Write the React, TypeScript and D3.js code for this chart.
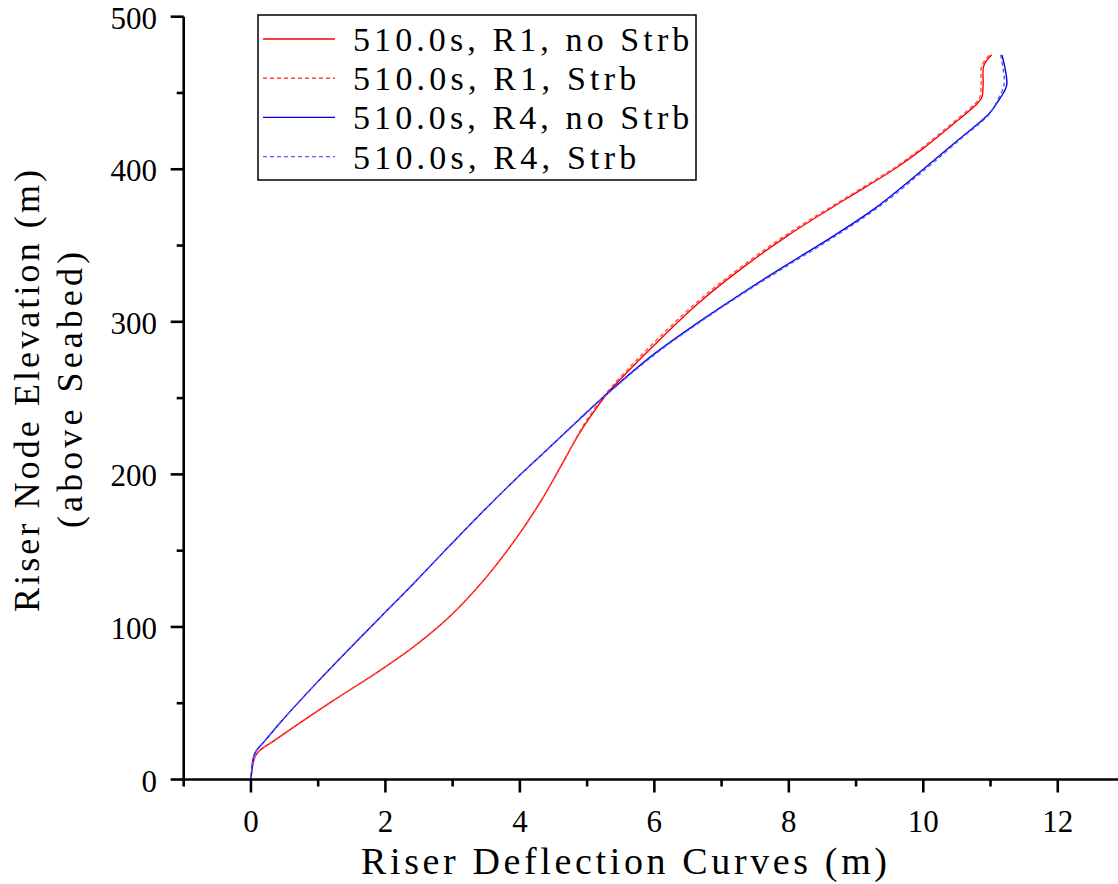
import React from "react";
import * as d3 from "d3";

// ---- Data ----
const elevR1 = [0, 5, 10, 15, 19, 25, 32, 51, 70, 87, 107, 131, 159, 183, 203, 225, 236, 253, 264, 284, 312, 335, 357, 380, 401, 413, 428, 443, 447, 456, 468, 475];
const defR1NoStrb = [0, 0.01, 0.03, 0.06, 0.13, 0.33, 0.56, 1.2, 1.87, 2.42, 2.96, 3.47, 3.96, 4.32, 4.58, 4.86, 5.02, 5.3, 5.53, 5.98, 6.65, 7.3, 8.0, 8.83, 9.6, 9.98, 10.4, 10.8, 10.87, 10.89, 10.9, 11.02];
const defR1Strb = [0, 0.01, 0.03, 0.06, 0.13, 0.33, 0.56, 1.2, 1.87, 2.42, 2.96, 3.47, 3.96, 4.32, 4.58, 4.85, 5.0, 5.28, 5.5, 5.94, 6.61, 7.26, 7.96, 8.8, 9.57, 9.95, 10.37, 10.77, 10.84, 10.86, 10.87, 10.99];

const elevR4 = [0, 5, 10, 15, 19, 25, 39, 63, 85, 107, 129, 153, 177, 197, 216, 236, 253, 278, 298, 318, 336, 355, 375, 400, 420, 436, 445, 455, 465, 475];
const defR4NoStrb = [0, 0.01, 0.02, 0.04, 0.08, 0.2, 0.47, 0.97, 1.45, 1.94, 2.43, 2.95, 3.48, 3.94, 4.4, 4.88, 5.3, 5.97, 6.6, 7.28, 7.92, 8.62, 9.3, 10.0, 10.54, 10.97, 11.12, 11.24, 11.22, 11.17];
const defR4Strb = [0, 0.01, 0.02, 0.04, 0.08, 0.2, 0.47, 0.97, 1.45, 1.94, 2.43, 2.95, 3.48, 3.94, 4.4, 4.89, 5.31, 5.99, 6.62, 7.3, 7.95, 8.65, 9.33, 10.03, 10.56, 10.98, 11.1, 11.2, 11.19, 11.15];

const seriesLabels = ["510.0s, R1, no Strb", "510.0s, R1, Strb", "510.0s, R4, no Strb", "510.0s, R4, Strb"];
const xMajorTicks = [0, 2, 4, 6, 8, 10, 12];
const xMinorTicks = [-1, 1, 3, 5, 7, 9, 11, 13];
const yMajorTicks = [0, 100, 200, 300, 400, 500];
const yMinorTicks = [50, 150, 250, 350, 450];
const xTitle = "Riser Deflection Curves (m)";
const yTitle1 = "Riser Node Elevation (m)";
const yTitle2 = "(above Seabed)";

const FONT = "'Liberation Serif', 'DejaVu Serif', serif";

export default function App() {
  const W = 1118, H = 884;
  const x = d3.scaleLinear().domain([-1, 13]).range([183.7, 1125]);
  const y = d3.scaleLinear().domain([0, 500]).range([779.5, 16.7]);

  const series = [
    { elev: elevR1, def: defR1NoStrb, color: "#ff0000", dash: null },
    { elev: elevR1, def: defR1Strb, color: "#ff4a4a", dash: "4,3" },
    { elev: elevR4, def: defR4NoStrb, color: "#0000e6", dash: null },
    { elev: elevR4, def: defR4Strb, color: "#5a5aff", dash: "4,3" },
  ];

  const line = d3
    .line<[number, number]>()
    .x((d) => x(d[0]))
    .y((d) => y(d[1]))
    .curve(d3.curveCatmullRom.alpha(0.5));

  const x0 = x(-1);
  const yBase = y(0);

  return (
    <svg
      width={W}
      height={H}
      style={{ position: "absolute", left: 0, top: 0, background: "#fff" }}
      fontFamily={FONT}
    >
      <rect x={0} y={0} width={W} height={H} fill="#fff" />

      {/* curves */}
      <g>
        {series.map((s, i) => {
          const pts: [number, number][] = s.elev.map((e, j) => [s.def[j], e]);
          return (
            <path
              key={i}
              d={line(pts) || ""}
              fill="none"
              stroke={s.color}
              strokeWidth={1.4}
              strokeDasharray={s.dash || undefined}
            />
          );
        })}
      </g>

      {/* axes */}
      <g stroke="#000" strokeWidth={2.6} fill="none">
        <line x1={x0} x2={W + 10} y1={yBase} y2={yBase} />
        <line x1={x0} x2={x0} y1={y(500)} y2={yBase + 1.3} />
        {xMajorTicks.map((t) => (
          <line key={"xM" + t} x1={x(t)} x2={x(t)} y1={yBase} y2={yBase + 13} />
        ))}
        {xMinorTicks.map((t) => (
          <line key={"xm" + t} x1={x(t)} x2={x(t)} y1={yBase} y2={yBase + 7} />
        ))}
        {yMajorTicks.map((t) => (
          <line key={"yM" + t} x1={x0 - 13} x2={x0} y1={y(t)} y2={y(t)} />
        ))}
        {yMinorTicks.map((t) => (
          <line key={"ym" + t} x1={x0 - 7} x2={x0} y1={y(t)} y2={y(t)} />
        ))}
      </g>

      {/* tick labels */}
      <g fontSize={31} fill="#000">
        {xMajorTicks.map((t) => (
          <text key={"xl" + t} x={x(t)} y={832} textAnchor="middle">
            {t}
          </text>
        ))}
        {yMajorTicks.map((t) => (
          <text key={"yl" + t} x={157} y={y(t) + 12} textAnchor="end">
            {t}
          </text>
        ))}
      </g>

      {/* axis titles */}
      <text x={624} y={874} fontSize={38} textAnchor="middle" textLength={526} lengthAdjust="spacing">
        {xTitle}
      </text>
      <text
        transform="translate(39,391) rotate(-90)"
        fontSize={36}
        textAnchor="middle"
        textLength={442}
        lengthAdjust="spacing"
      >
        {yTitle1}
      </text>
      <text
        transform="translate(82,390) rotate(-90)"
        fontSize={36}
        textAnchor="middle"
        textLength={276}
        lengthAdjust="spacing"
      >
        {yTitle2}
      </text>

      {/* legend */}
      <g>
        <rect x={258} y={15} width={438} height={165} fill="#fff" stroke="#000" strokeWidth={1.5} />
        {series.map((s, i) => {
          const ry = 39 + i * 39.2;
          return (
            <g key={"lg" + i}>
              <line
                x1={263}
                x2={335}
                y1={ry}
                y2={ry}
                stroke={s.color}
                strokeWidth={1.4}
                strokeDasharray={s.dash || undefined}
              />
              <text
                x={353}
                y={ry + 12}
                fontSize={34}
                textLength={seriesLabels[i].length * 17.7}
                lengthAdjust="spacing"
              >
                {seriesLabels[i]}
              </text>
            </g>
          );
        })}
      </g>
    </svg>
  );
}
